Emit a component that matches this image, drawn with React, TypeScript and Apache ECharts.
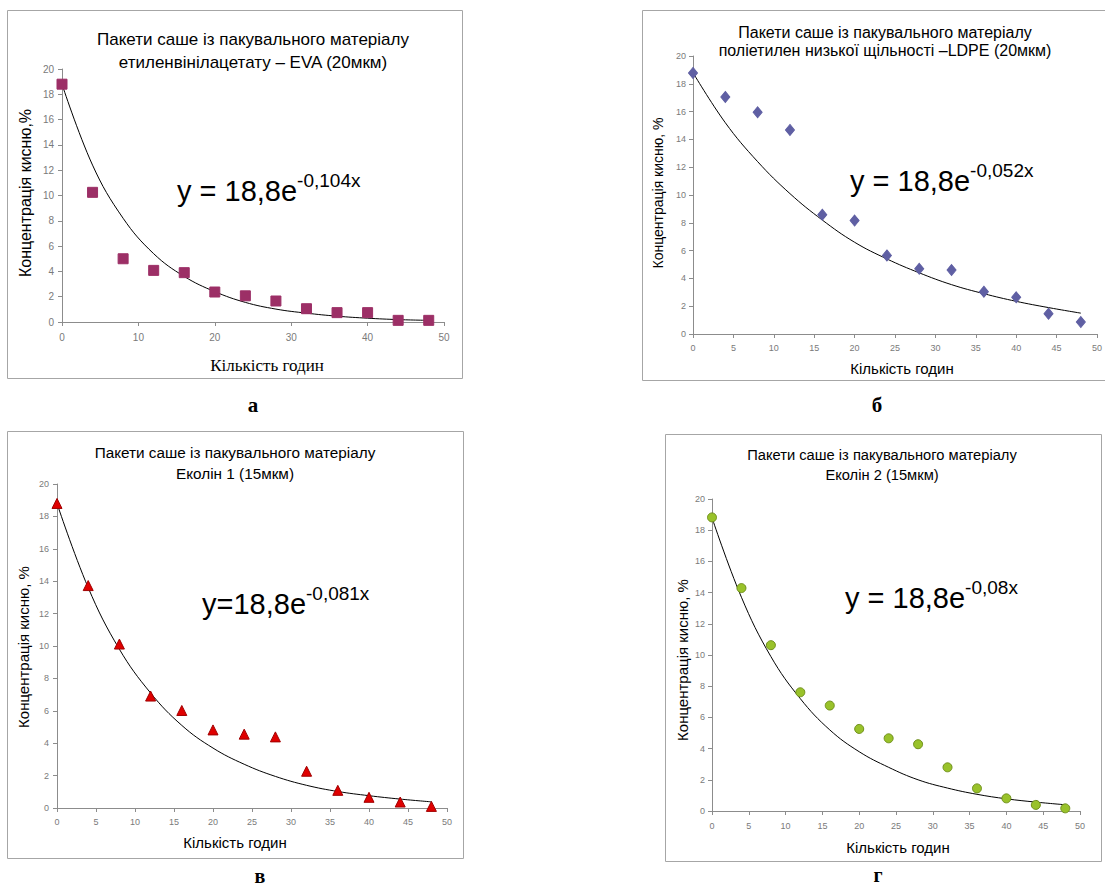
import React, { useEffect, useRef } from "react";
import * as echarts from "echarts";

// Hours of storage (x)
const hours = [0, 4, 8, 12, 16, 20, 24, 28, 32, 36, 40, 44, 48];

// Measured oxygen concentration, %
const evaValues = [18.8, 10.25, 5.0, 4.08, 3.9, 2.37, 2.07, 1.66, 1.05, 0.74, 0.74, 0.13, 0.13];
const ldpeValues = [18.78, 17.05, 15.95, 14.68, 8.58, 8.16, 5.65, 4.69, 4.6, 3.04, 2.64, 1.46, 0.86];
const ekolin1Values = [18.8, 13.73, 10.12, 6.91, 6.02, 4.82, 4.56, 4.39, 2.27, 1.09, 0.66, 0.37, 0.1];
const ekolin2Values = [18.82, 14.29, 10.63, 7.61, 6.76, 5.26, 4.66, 4.28, 2.8, 1.45, 0.81, 0.39, 0.17];

// Trend lines at the same hours
const evaTrend = [18.8, 12.4, 8.2, 5.4, 3.6, 2.4, 1.55, 1.02, 0.7, 0.46, 0.3, 0.19, 0.13];
const ldpeTrend = [18.8, 15.2, 12.4, 10.1, 8.2, 6.6, 5.4, 4.4, 3.55, 2.9, 2.35, 1.9, 1.5];
const ekolin1Trend = [18.8, 13.6, 9.8, 7.1, 5.1, 3.7, 2.7, 1.95, 1.4, 1.02, 0.76, 0.55, 0.38];
const ekolin2Trend = [18.8, 13.7, 9.9, 7.2, 5.2, 3.8, 2.8, 2.0, 1.47, 1.07, 0.78, 0.57, 0.4];

// Texts
const titlesA = ["Пакети саше із пакувального матеріалу", "етиленвінілацетату – EVA (20мкм)"];
const titlesB = ["Пакети саше із пакувального матеріалу", "поліетилен низької щільності –LDPE (20мкм)"];
const titlesC = ["Пакети саше із пакувального матеріалу", "Еколін 1 (15мкм)"];
const titlesD = ["Пакети саше із пакувального матеріалу", "Еколін 2 (15мкм)"];
const eqMain = ["y = 18,8e", "y = 18,8e", "y=18,8e", "y = 18,8e"];
const eqExp = ["-0,104x", "-0,052x", "-0,081x", "-0,08x"];
const xAxisTitle = "Кількість годин";
const yTitles = ["Концентрація кисню,%", "Концентрація кисню, %", "Концентрація кисню, %", "Концентрація кисню, %"];
const panelLetters = ["а", "б", "в", "г"];

const SANS = "'Liberation Sans', Arial, sans-serif";
const SERIF = "'Liberation Serif', 'Times New Roman', serif";

export default function App() {
  const ref = useRef<HTMLDivElement>(null);

  useEffect(() => {
    document.body.style.margin = "0";
    if (!ref.current) return;
    const chart = echarts.init(ref.current, undefined, { renderer: "svg" });

    const grids = [
      { left: 62, top: 69, width: 382, height: 253 },
      { left: 693, top: 56, width: 409, height: 278 },
      { left: 57, top: 484, width: 390, height: 324 },
      { left: 712, top: 499, width: 368, height: 312 },
    ];
    const xIntervals = [10, 5, 5, 5];
    const labelFont = [10, 9, 9, 9];
    const xMargins = [10, 9, 9, 10];
    const yMargins = [8, 7, 8, 7];

    const xAxes = grids.map((_, i) => ({
      type: "value",
      gridIndex: i,
      min: 0,
      max: 50,
      interval: xIntervals[i],
      axisLine: { show: true, lineStyle: { color: "#8c8c8c", width: 1 } },
      axisTick: { show: true, length: 4, lineStyle: { color: "#8c8c8c" } },
      axisLabel: { color: "#7a7a7a", fontSize: labelFont[i], fontFamily: SANS, margin: xMargins[i] },
      splitLine: { show: false },
    }));
    const yAxes = grids.map((_, i) => ({
      type: "value",
      gridIndex: i,
      min: 0,
      max: 20,
      interval: 2,
      axisLine: { show: true, lineStyle: { color: "#8c8c8c", width: 1 } },
      axisTick: { show: true, length: 4, lineStyle: { color: "#8c8c8c" } },
      axisLabel: { color: "#7a7a7a", fontSize: labelFont[i], fontFamily: SANS, margin: yMargins[i] },
      splitLine: { show: false },
    }));

    const pts = (vals: number[]) => hours.map((h, i) => [h, vals[i]]);
    const trends = [evaTrend, ldpeTrend, ekolin1Trend, ekolin2Trend];
    const values = [evaValues, ldpeValues, ekolin1Values, ekolin2Values];
    const symbols = ["rect", "diamond", "triangle", "circle"];
    const sizes: any[] = [10, [9, 11], 10, 9];
    const colors = ["#9c2f66", "#5f5fa3", "#e00000", "#99c22a"];
    const borders = ["#9c2f66", "#5f5fa3", "#a00000", "#6f8f1a"];

    const series: any[] = [];
    trends.forEach((t, i) => {
      series.push({
        type: "line",
        xAxisIndex: i,
        yAxisIndex: i,
        data: pts(t),
        smooth: 0.4,
        showSymbol: false,
        symbol: "none",
        lineStyle: { color: "#000", width: 1 },
        z: 2,
      });
    });
    values.forEach((v, i) => {
      series.push({
        type: "scatter",
        xAxisIndex: i,
        yAxisIndex: i,
        data: pts(v),
        symbol: symbols[i],
        symbolSize: sizes[i],
        itemStyle: { color: colors[i], borderColor: borders[i], borderWidth: 1, opacity: 1 },
        z: 3,
      });
    });

    const txt = (x: number, y: number, text: string, fontSize: number, fontFamily = SANS, extra: any = {}) => ({
      type: "text",
      x,
      y,
      style: {
        text,
        fontSize,
        fontFamily,
        fill: "#000",
        align: "center",
        verticalAlign: "middle",
        ...extra,
      },
      z: 10,
    });

    const rotated = (x: number, y: number, text: string, fontSize: number) => ({
      type: "text",
      x,
      y,
      rotation: Math.PI / 2,
      style: { text, fontSize, fontFamily: SANS, fill: "#000", align: "center", verticalAlign: "middle" },
      z: 10,
    });

    const eq = (x: number, y: number, i: number) => ({
      type: "text",
      x,
      y,
      style: {
        text: `{a|${eqMain[i]}}{b|${eqExp[i]}}`,
        align: "left",
        verticalAlign: "middle",
        rich: {
          a: { fontSize: 29, fontFamily: SANS, fill: "#000", verticalAlign: "bottom", lineHeight: 34 },
          b: { fontSize: 19, fontFamily: SANS, fill: "#000", verticalAlign: "top", lineHeight: 34 },
        },
      },
      z: 10,
    });

    const frame = (x: number, y: number, w: number, h: number) => ({
      type: "rect",
      shape: { x, y, width: w, height: h },
      style: { fill: "#fff", stroke: "#a6a6a6", lineWidth: 1 },
      z: -10,
      silent: true,
    });

    const graphic: any[] = [
      frame(7.5, 10.5, 455, 368),
      frame(642.5, 10.5, 480, 370),
      frame(7.5, 431.5, 456, 427),
      frame(665.5, 434.5, 436, 427),

      txt(253, 39, titlesA[0], 17),
      txt(253, 62, titlesA[1], 17),
      txt(885, 32, titlesB[0], 16),
      txt(885, 50, titlesB[1], 16),
      txt(235, 452, titlesC[0], 15.3),
      txt(235, 473, titlesC[1], 15.3),
      txt(882, 455, titlesD[0], 14.7),
      txt(882, 475, titlesD[1], 14.7),

      eq(177, 188, 0),
      eq(850, 178, 1),
      eq(202, 601, 2),
      eq(845, 595, 3),

      txt(267, 365, xAxisTitle, 17, SERIF),
      txt(902, 368, xAxisTitle, 15),
      txt(235, 842, xAxisTitle, 15),
      txt(898, 847, xAxisTitle, 15),

      rotated(25, 193, yTitles[0], 16),
      rotated(658, 193, yTitles[1], 14),
      rotated(23, 647, yTitles[2], 15),
      rotated(682, 660, yTitles[3], 15),

      txt(253, 405, panelLetters[0], 21, SERIF, { fontWeight: "bold" }),
      txt(877, 405, panelLetters[1], 21, SERIF, { fontWeight: "bold" }),
      txt(260, 876, panelLetters[2], 20, SERIF, { fontWeight: "bold" }),
      txt(878, 875, panelLetters[3], 20, SERIF, { fontWeight: "bold" }),
    ];

    chart.setOption({
      animation: false,
      backgroundColor: "#fff",
      grid: grids.map((g) => ({ ...g, containLabel: false })),
      xAxis: xAxes,
      yAxis: yAxes,
      series,
      graphic,
    });

    return () => chart.dispose();
  }, []);

  return <div ref={ref} style={{ width: 1105, height: 888 }} />;
}
